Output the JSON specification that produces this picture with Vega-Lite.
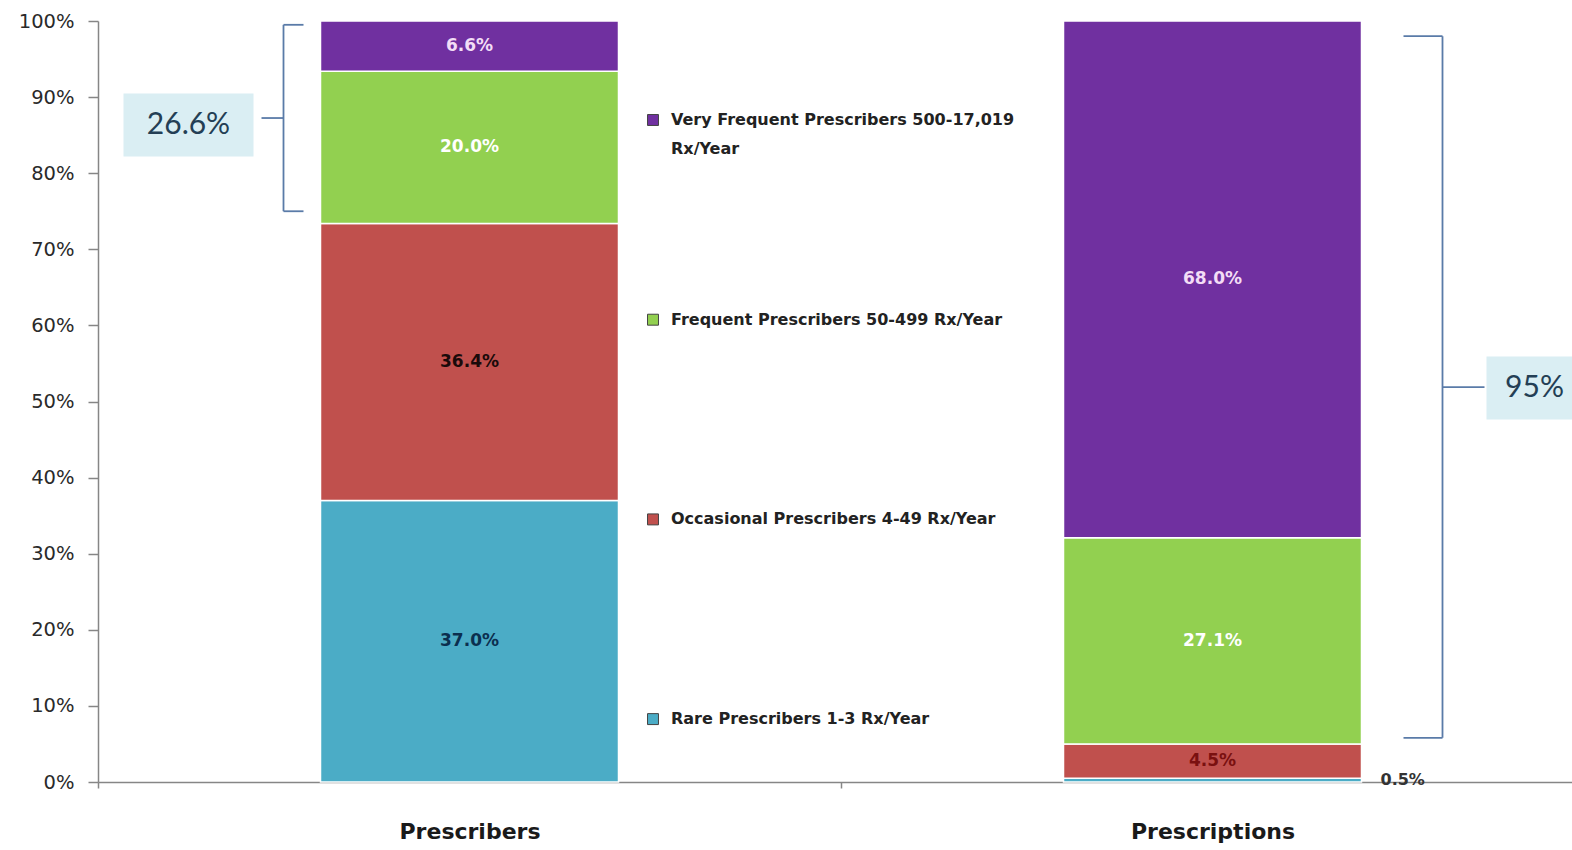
{
  "$schema": "https://vega.github.io/schema/vega-lite/v6.json",
  "width": 1474,
  "height": 761,
  "autosize": {"type": "none"},
  "padding": {"left": 98, "top": 21, "right": 0, "bottom": 68},
  "background": "white",
  "config": {
    "view": {"stroke": null},
    "font": "Lato",
    "style": {"guide-label": {"lineHeight": 29}}
  },
  "datasets": {
    "shares": [
      {"group": "Prescribers", "category": "Rare Prescribers 1-3 Rx/Year", "share": 0.370, "stackOrder": 1},
      {"group": "Prescribers", "category": "Occasional Prescribers 4-49 Rx/Year", "share": 0.364, "stackOrder": 2},
      {"group": "Prescribers", "category": "Frequent Prescribers 50-499 Rx/Year", "share": 0.200, "stackOrder": 3},
      {"group": "Prescribers", "category": "Very Frequent Prescribers 500-17,019 Rx/Year", "share": 0.066, "stackOrder": 4},
      {"group": "Prescriptions", "category": "Rare Prescribers 1-3 Rx/Year", "share": 0.005, "stackOrder": 1},
      {"group": "Prescriptions", "category": "Occasional Prescribers 4-49 Rx/Year", "share": 0.045, "stackOrder": 2},
      {"group": "Prescriptions", "category": "Frequent Prescribers 50-499 Rx/Year", "share": 0.271, "stackOrder": 3},
      {"group": "Prescriptions", "category": "Very Frequent Prescribers 500-17,019 Rx/Year", "share": 0.680, "stackOrder": 4}
    ],
    "brackets": [
      {"group": "Prescribers", "lo": 0.75, "hi": 0.995, "note": "26.6%"},
      {"group": "Prescriptions", "lo": 0.058, "hi": 0.98, "note": "95%"}
    ]
  },
  "layer": [
    {
      "data": {"name": "shares"},
      "transform": [
        {"stack": "share", "groupby": ["group"], "sort": [{"field": "stackOrder", "order": "ascending"}], "as": ["lo", "hi"]},
        {"calculate": "(datum.lo + datum.hi) / 2", "as": "mid"}
      ],
      "layer": [
        {
          "mark": {"type": "bar", "width": 298, "stroke": "white", "strokeWidth": 1.5},
          "encoding": {
            "x": {
              "field": "group", "type": "nominal",
              "scale": {"domain": ["Prescribers", "Prescriptions"], "range": [0, 1486], "paddingInner": 0, "paddingOuter": 0},
              "axis": {
                "title": null, "tickBand": "extent", "labelAngle": 0,
                "labelFont": "DejaVu Sans", "labelFontSize": 22, "labelFontWeight": "bold", "labelColor": "#1a1a1a",
                "labelPadding": 33, "domainColor": "#868686", "domainWidth": 1.5,
                "tickColor": "#868686", "tickSize": 6, "tickWidth": 1.5
              }
            },
            "y": {
              "field": "lo", "type": "quantitative", "title": null,
              "scale": {"domain": [0, 1], "nice": false, "clamp": true},
              "axis": {
                "title": null, "format": ".0%", "values": [0, 0.1, 0.2, 0.3, 0.4, 0.5, 0.6, 0.7, 0.8, 0.9, 1],
                "grid": false, "labelFont": "DejaVu Sans", "labelFontSize": 19.5, "labelColor": "#2a2a2a",
                "labelPadding": 14, "domainColor": "#868686", "domainWidth": 1.5,
                "tickColor": "#868686", "tickSize": 10, "tickWidth": 1.5
              }
            },
            "y2": {"field": "hi"},
            "color": {
              "field": "category", "type": "nominal",
              "scale": {
                "domain": [
                  "Very Frequent Prescribers 500-17,019 Rx/Year",
                  "Frequent Prescribers 50-499 Rx/Year",
                  "Occasional Prescribers 4-49 Rx/Year",
                  "Rare Prescribers 1-3 Rx/Year"
                ],
                "range": ["#7030A0", "#92D050", "#C0504D", "#4BACC6"]
              },
              "legend": {
                "title": null, "orient": "none", "legendX": 547, "legendY": 91,
                "padding": 0, "symbolType": "square", "symbolSize": 120,
                "symbolStrokeColor": "#444444", "symbolStrokeWidth": 1,
                "labelFont": "DejaVu Sans", "labelFontSize": 16, "labelFontWeight": "bold", "labelColor": "#222222",
                "labelLimit": 500, "labelOffset": 10, "rowPadding": 154.7,
                "labelExpr": "datum.label == 'Very Frequent Prescribers 500-17,019 Rx/Year' ? ['Very Frequent Prescribers 500-17,019', 'Rx/Year'] : [datum.label, '']"
              }
            }
          }
        },
        {
          "transform": [{"filter": "datum.share >= 0.01"}],
          "mark": {"type": "text", "font": "DejaVu Sans", "fontSize": 17, "fontWeight": "bold", "baseline": "middle"},
          "encoding": {
            "x": {"field": "group", "type": "nominal"},
            "y": {"field": "mid", "type": "quantitative"},
            "text": {"field": "share", "type": "quantitative", "format": ".1%"},
            "color": {
              "condition": [
                {"test": "datum.category == 'Rare Prescribers 1-3 Rx/Year'", "value": "#0B2F4F"},
                {"test": "datum.category == 'Occasional Prescribers 4-49 Rx/Year' && datum.group == 'Prescribers'", "value": "#1a0a0a"},
                {"test": "datum.category == 'Occasional Prescribers 4-49 Rx/Year'", "value": "#7A1010"},
                {"test": "datum.category == 'Very Frequent Prescribers 500-17,019 Rx/Year'", "value": "#F3DDF6"}
              ],
              "value": "#FFFFFF"
            }
          }
        },
        {
          "transform": [{"filter": "datum.share < 0.01"}],
          "mark": {"type": "text", "font": "DejaVu Sans", "fontSize": 16, "fontWeight": "bold", "align": "left", "baseline": "middle", "xOffset": 168, "color": "#333333"},
          "encoding": {
            "x": {"field": "group", "type": "nominal"},
            "y": {"field": "mid", "type": "quantitative"},
            "text": {"field": "share", "type": "quantitative", "format": ".1%"}
          }
        }
      ]
    },
    {
      "data": {"name": "brackets"},
      "transform": [{"calculate": "(datum.lo + datum.hi) / 2", "as": "mid"}],
      "layer": [
        {
          "mark": {"type": "rule", "color": "#5A7BA8", "strokeWidth": 1.8,
                   "xOffset": {"expr": "datum.group == 'Prescribers' ? -186 : 230"}},
          "encoding": {
            "x": {"field": "group", "type": "nominal"},
            "y": {"field": "lo", "type": "quantitative", "title": null},
            "y2": {"field": "hi"}
          }
        },
        {
          "mark": {"type": "rule", "color": "#5A7BA8", "strokeWidth": 1.8,
                   "xOffset": {"expr": "datum.group == 'Prescribers' ? -186 : 191"},
                   "x2Offset": {"expr": "datum.group == 'Prescribers' ? -166 : 230"}},
          "encoding": {
            "x": {"field": "group", "type": "nominal"},
            "x2": {"field": "group"},
            "y": {"field": "hi", "type": "quantitative", "title": null}
          }
        },
        {
          "mark": {"type": "rule", "color": "#5A7BA8", "strokeWidth": 1.8,
                   "xOffset": {"expr": "datum.group == 'Prescribers' ? -186 : 191"},
                   "x2Offset": {"expr": "datum.group == 'Prescribers' ? -166 : 230"}},
          "encoding": {
            "x": {"field": "group", "type": "nominal"},
            "x2": {"field": "group"},
            "y": {"field": "lo", "type": "quantitative", "title": null}
          }
        },
        {
          "mark": {"type": "rule", "color": "#5A7BA8", "strokeWidth": 1.8,
                   "xOffset": {"expr": "datum.group == 'Prescribers' ? -208 : 230"},
                   "x2Offset": {"expr": "datum.group == 'Prescribers' ? -186 : 272"}},
          "encoding": {
            "x": {"field": "group", "type": "nominal"},
            "x2": {"field": "group"},
            "y": {"field": "mid", "type": "quantitative", "title": null}
          }
        },
        {
          "mark": {"type": "rule", "color": "#DAEEF3", "strokeWidth": 63, "strokeCap": "butt",
                   "yOffset": {"expr": "datum.group == 'Prescribers' ? 7 : 1"},
                   "xOffset": {"expr": "datum.group == 'Prescribers' ? -346 : 274"},
                   "x2Offset": {"expr": "datum.group == 'Prescribers' ? -216 : 372"}},
          "encoding": {
            "x": {"field": "group", "type": "nominal"},
            "x2": {"field": "group"},
            "y": {"field": "mid", "type": "quantitative", "title": null}
          }
        },
        {
          "mark": {"type": "text", "font": "Lato", "fontSize": 30, "color": "#243F55", "baseline": "middle",
                   "yOffset": {"expr": "datum.group == 'Prescribers' ? 7 : 1"},
                   "xOffset": {"expr": "datum.group == 'Prescribers' ? -281 : 322"}},
          "encoding": {
            "x": {"field": "group", "type": "nominal"},
            "y": {"field": "mid", "type": "quantitative", "title": null},
            "text": {"field": "note", "type": "nominal"}
          }
        }
      ]
    }
  ]
}
